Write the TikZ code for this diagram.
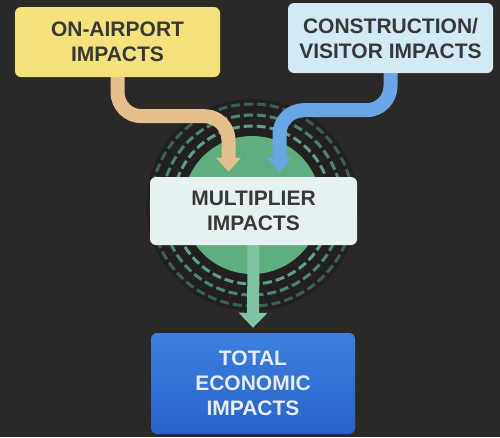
\documentclass[tikz,border=0pt]{standalone}
\usepackage{fontspec}
\setmainfont{Liberation Sans}
\usetikzlibrary{arrows.meta}
\pgfdeclarelayer{back}
\pgfdeclarelayer{mid}
\pgfsetlayers{back,mid,main}
\definecolor{bg}{HTML}{2B2927}
\definecolor{halo}{HTML}{232120}
\definecolor{greenc}{HTML}{5FAE80}
\definecolor{ring1}{HTML}{5E9E8A}
\definecolor{ring2}{HTML}{4C8474}
\definecolor{ring3}{HTML}{3A5F55}
\definecolor{oarrow}{HTML}{E6C08C}
\definecolor{barrow}{HTML}{6AA6E6}
\definecolor{garrow}{HTML}{7EC4A3}
\definecolor{yellowbox}{HTML}{F5E27D}
\definecolor{lbluebox}{HTML}{D2E9F6}
\definecolor{multbox}{HTML}{E5F2F1}
\definecolor{bluetop}{HTML}{3C80DE}
\definecolor{bluebot}{HTML}{2763C9}
\definecolor{txt}{HTML}{383838}
\tikzset{
  box/.style={rounded corners=6pt, inner sep=0pt, align=center, text=txt,
    font=\fontsize{21}{25}\selectfont\bfseries},
  ring/.style={line width=3pt, dash pattern=on 9pt off 4pt},
  flow/.style={line width=14pt, rounded corners=24pt,
    -{Triangle[width=24pt,length=14pt]}},
}
\begin{document}
\begin{tikzpicture}[x=1pt,y=-1pt]
\useasboundingbox (0,0) rectangle (500,437);
% boxes
\node[box, fill=yellowbox, minimum width=205pt, minimum height=70pt] (oa) at (117.5,42) {ON-AIRPORT\\IMPACTS};
\node[box, fill=lbluebox, minimum width=205pt, minimum height=70pt] (cv) at (390.5,38) {CONSTRUCTION/\\VISITOR IMPACTS};
\node[box, fill=multbox, minimum width=207pt, minimum height=68pt] (mult) at (253.5,211) {MULTIPLIER\\IMPACTS};
\node[box, top color=bluetop, bottom color=bluebot, text=white!92!blue, minimum width=204pt, minimum height=101pt] (total) at (253,383.5) {TOTAL\\ECONOMIC\\IMPACTS};
\coordinate (hub) at (252,205);
\begin{pgfonlayer}{back}
\fill[bg] (0,0) rectangle (500,437);
\fill[halo] (hub) circle (106);
\draw[ring, ring3] (hub) circle (101);
\draw[ring, ring2] (hub) circle (90);
\draw[ring, ring1] (hub) circle (79);
\fill[greenc] (hub) circle (69);
\end{pgfonlayer}
\begin{pgfonlayer}{mid}
\draw[flow, oarrow] (oa.south) -- ++(0,39) -| ([xshift=-25pt,yshift=5pt]mult.north);
\draw[flow, barrow] (cv.south) -- ++(0,37) -| ([xshift=26pt,yshift=5pt]mult.north);
\draw[line width=12pt, garrow, -{Triangle[width=28pt,length=15pt]}] (mult.south) -- ([yshift=5pt]total.north);
\end{pgfonlayer}
\end{tikzpicture}
\end{document}
